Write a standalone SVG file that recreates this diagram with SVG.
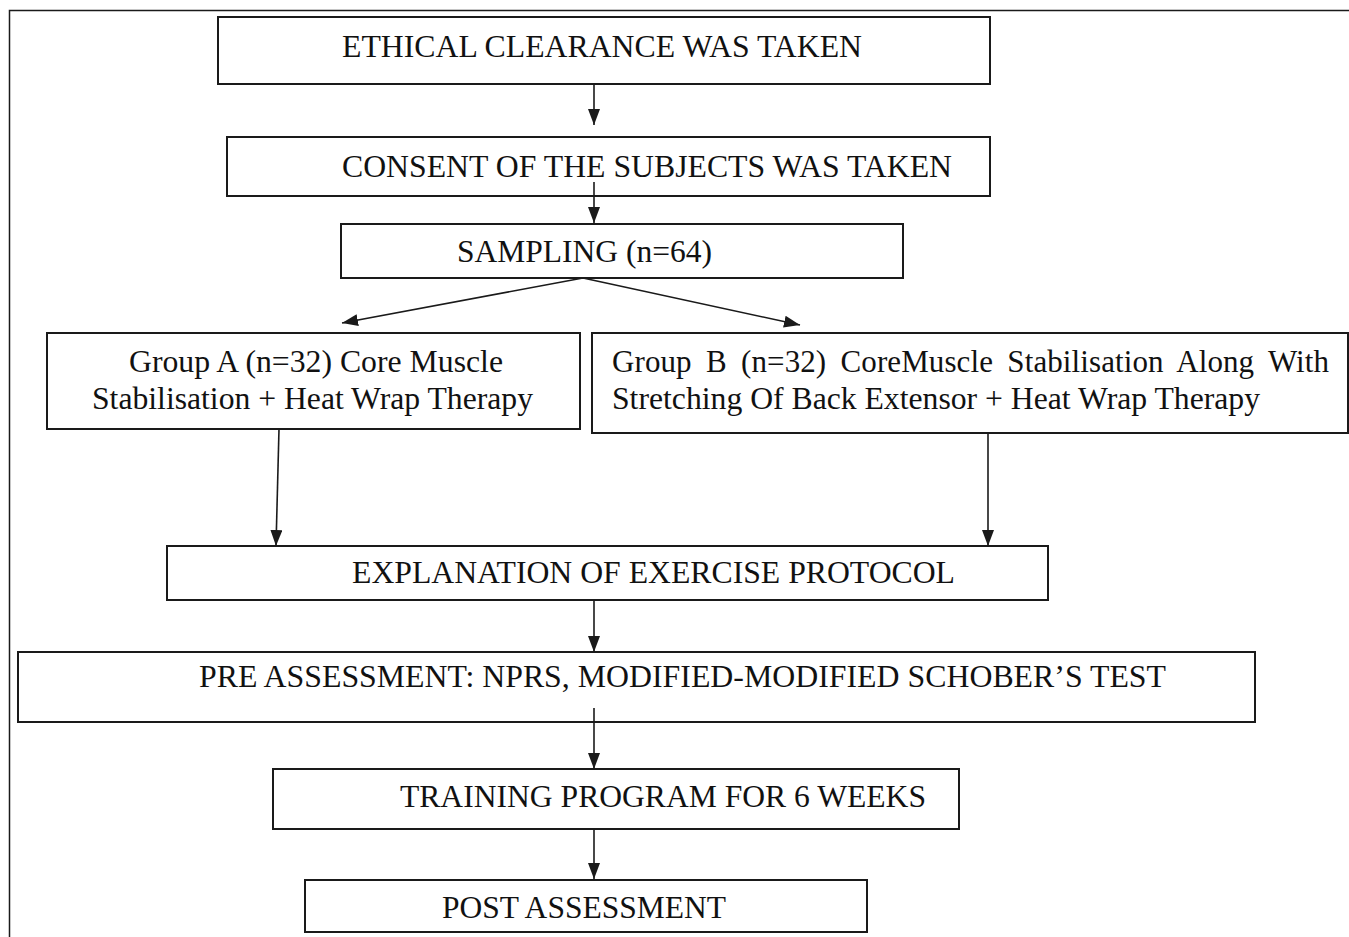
<svg xmlns="http://www.w3.org/2000/svg" width="1349" height="937" viewBox="0 0 1349 937">
<style>
.box{fill:#fff;stroke:#1a1a1a;stroke-width:2}
.lbl{font-family:"Liberation Serif","Times New Roman",serif;font-size:31px;fill:#111}
.con{stroke:#1a1a1a;stroke-width:1.6;fill:none}
.frame{stroke:#1a1a1a;stroke-width:1.5;fill:none}
</style>
<defs>
<marker id="arr" viewBox="0 0 16 12" refX="16" refY="6" markerWidth="16" markerHeight="12" markerUnits="userSpaceOnUse" orient="auto">
<path d="M0,0 L16,6 L0,12 z" fill="#1a1a1a"/>
</marker>
</defs>
<rect width="1349" height="937" fill="#fff"/>
<path class="frame" d="M9.5,937 L9.5,10.5 L1349,10.5"/>

<g id="n1"><rect class="box" x="218" y="17" width="772" height="67"/>
<text class="lbl" x="342" y="57" textLength="520" lengthAdjust="spacingAndGlyphs">ETHICAL CLEARANCE WAS TAKEN</text></g>

<g id="n2"><rect class="box" x="227" y="137" width="763" height="59"/>
<text class="lbl" x="342" y="177" textLength="610" lengthAdjust="spacingAndGlyphs">CONSENT OF THE SUBJECTS WAS TAKEN</text></g>

<g id="n3"><rect class="box" x="341" y="224" width="562" height="54"/>
<text class="lbl" x="457" y="262" textLength="255" lengthAdjust="spacingAndGlyphs">SAMPLING (n=64)</text></g>

<g id="nA"><rect class="box" x="47" y="333" width="533" height="96"/>
<text class="lbl" x="129" y="372" textLength="374" lengthAdjust="spacingAndGlyphs">Group A (n=32) Core Muscle</text>
<text class="lbl" x="92" y="409" textLength="441" lengthAdjust="spacingAndGlyphs">Stabilisation + Heat Wrap Therapy</text></g>

<g id="nB"><rect class="box" x="592" y="333" width="756" height="100"/>
<text class="lbl" x="612" y="372" word-spacing="6.5" textLength="717" lengthAdjust="spacing">Group B (n=32) CoreMuscle Stabilisation Along With</text>
<text class="lbl" x="612" y="409" textLength="648" lengthAdjust="spacingAndGlyphs">Stretching Of Back Extensor + Heat Wrap Therapy</text></g>

<g id="nE"><rect class="box" x="167" y="546" width="881" height="54"/>
<text class="lbl" x="352" y="583" textLength="603" lengthAdjust="spacingAndGlyphs">EXPLANATION OF EXERCISE PROTOCOL</text></g>

<g id="nPre"><rect class="box" x="18" y="652" width="1237" height="70"/>
<text class="lbl" x="199" y="687" textLength="967" lengthAdjust="spacingAndGlyphs">PRE ASSESSMENT: NPRS, MODIFIED-MODIFIED SCHOBER’S TEST</text></g>

<g id="nT"><rect class="box" x="273" y="769" width="686" height="60"/>
<text class="lbl" x="400" y="807" textLength="526" lengthAdjust="spacingAndGlyphs">TRAINING PROGRAM FOR 6 WEEKS</text></g>

<g id="nPost"><rect class="box" x="305" y="880" width="562" height="52"/>
<text class="lbl" x="442" y="918" textLength="284" lengthAdjust="spacingAndGlyphs">POST ASSESSMENT</text></g>

<g id="connectors">
<line class="con" x1="594" y1="84" x2="594" y2="125" marker-end="url(#arr)"/>
<line class="con" x1="594" y1="182" x2="594" y2="223" marker-end="url(#arr)"/>
<line class="con" x1="583" y1="278" x2="342" y2="323" marker-end="url(#arr)"/>
<line class="con" x1="583" y1="278" x2="800" y2="325" marker-end="url(#arr)"/>
<line class="con" x1="279" y1="429" x2="276" y2="546" marker-end="url(#arr)"/>
<line class="con" x1="988" y1="433" x2="988" y2="546" marker-end="url(#arr)"/>
<line class="con" x1="594" y1="600" x2="594" y2="652" marker-end="url(#arr)"/>
<line class="con" x1="594" y1="708" x2="594" y2="769" marker-end="url(#arr)"/>
<line class="con" x1="594" y1="829" x2="594" y2="879" marker-end="url(#arr)"/>
</g>
</svg>
